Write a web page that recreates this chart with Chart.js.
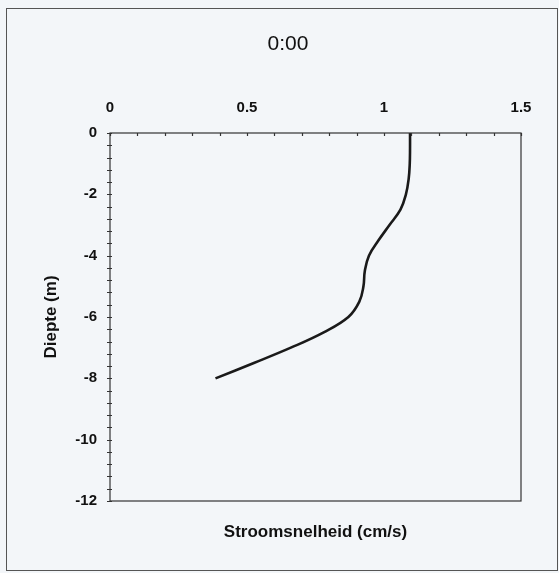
<!DOCTYPE html>
<html>
<head>
<meta charset="utf-8">
<script src="https://cdn.jsdelivr.net/npm/chart.js@4/dist/chart.umd.min.js"></script>
<style>
  html, body { margin: 0; padding: 0; background: #f3f6f9; }
  #wrap { width: 559px; height: 573px; position: relative; }
</style>
</head>
<body>
<div id="wrap"><canvas id="chart" width="559" height="573"></canvas></div>
<script>
// depth profile
const depths = [0, -0.5, -1, -1.5, -2, -2.5, -3, -3.5, -4, -4.5, -5, -5.5, -6, -6.5, -7, -7.5, -8];
const speeds = [1.095, 1.095, 1.094, 1.09, 1.08, 1.06, 1.02, 0.98, 0.945, 0.93, 0.925, 0.91, 0.87, 0.78, 0.66, 0.525, 0.385];
const xTicks = [0, 0.5, 1, 1.5];
const yTicks = [0, -2, -4, -6, -8, -10, -12];

const points = depths.map((d, i) => ({ x: speeds[i], y: d }));

// page frame, plot box and small tick marks
const framePlugin = {
    id: 'frame',
    beforeDraw(chart) {
        const c = chart.ctx;
        c.save();
        c.fillStyle = '#f3f6f9';
        c.fillRect(0, 0, chart.width, chart.height);
        c.strokeStyle = '#555';
        c.lineWidth = 1;
        c.strokeRect(6.5, 8.5, chart.width - 8, chart.height - 11);
        c.restore();
    },
    afterDraw(chart) {
        const c = chart.ctx;
        const a = chart.chartArea;
        const xs = chart.scales.x, ys = chart.scales.y;
        c.save();
        c.strokeStyle = '#333';
        c.lineWidth = 1.2;
        c.strokeRect(a.left, a.top, a.right - a.left, a.bottom - a.top);
        c.beginPath();
        for (let v = 0; v <= 15; v++) {
            const px = Math.round(xs.getPixelForValue(v / 10)) + 0.5;
            c.moveTo(px, a.top);
            c.lineTo(px, a.top + 3);
        }
        for (let v = 0; v <= 30; v++) {
            const py = Math.round(ys.getPixelForValue(-v * 0.4)) + 0.5;
            c.moveTo(a.left - 3, py);
            c.lineTo(a.left + 2, py);
        }
        c.stroke();
        c.restore();
    }
};

const font = 'Liberation Sans, Arial';

new Chart(document.getElementById('chart'), {
    type: 'scatter',
    data: {
        datasets: [{
            data: points,
            showLine: true,
            borderColor: '#1a1a1a',
            borderWidth: 2.6,
            pointRadius: 0,
            tension: 0.4,
            fill: false
        }]
    },
    options: {
        responsive: false,
        animation: false,
        layout: { padding: { left: 17, right: 0, top: 0, bottom: 0 } },
        plugins: {
            legend: { display: false },
            tooltip: { enabled: false },
            title: {
                display: true,
                text: '0:00',
                color: '#111',
                font: { family: font, size: 21, weight: 'normal' },
                padding: { top: 32, bottom: 0 }
            }
        },
        scales: {
            x: {
                type: 'linear',
                position: 'top',
                min: 0, max: 1.5,
                afterBuildTicks: s => { s.ticks = xTicks.map(v => ({ value: v })); },
                afterFit: s => { s.height = 133 - 57.2; },
                grid: { display: false, drawTicks: false },
                border: { display: false },
                ticks: {
                    color: '#111',
                    padding: 16,
                    maxRotation: 0,
                    font: { family: font, size: 15, weight: 'bold' },
                    callback: v => String(v)
                }
            },
            x2: {
                type: 'linear',
                position: 'bottom',
                min: 0, max: 1.5,
                afterFit: s => { s.height = 72; },
                grid: { display: false, drawTicks: false },
                border: { display: false },
                ticks: { display: false },
                title: {
                    display: true,
                    text: 'Stroomsnelheid (cm/s)',
                    color: '#111',
                    font: { family: font, size: 17, weight: 'bold' },
                    padding: { top: 0, bottom: 30 }
                }
            },
            y: {
                type: 'linear',
                position: 'left',
                min: -12, max: 0,
                afterBuildTicks: s => { s.ticks = yTicks.map(v => ({ value: v })); },
                afterFit: s => { s.width = 93; },
                grid: { display: false, drawTicks: false },
                border: { display: false },
                ticks: {
                    color: '#111',
                    padding: 13,
                    font: { family: font, size: 15, weight: 'bold' },
                    callback: v => String(v)
                },
                title: {
                    display: true,
                    text: 'Diepte (m)',
                    color: '#111',
                    font: { family: font, size: 17, weight: 'bold' },
                    padding: { top: 24, bottom: 0 }
                }
            },
            y2: {
                type: 'linear',
                position: 'right',
                min: -12, max: 0,
                afterFit: s => { s.width = 38; },
                grid: { display: false, drawTicks: false },
                border: { display: false },
                ticks: { display: false }
            }
        }
    },
    plugins: [framePlugin]
});
</script>
</body>
</html>
